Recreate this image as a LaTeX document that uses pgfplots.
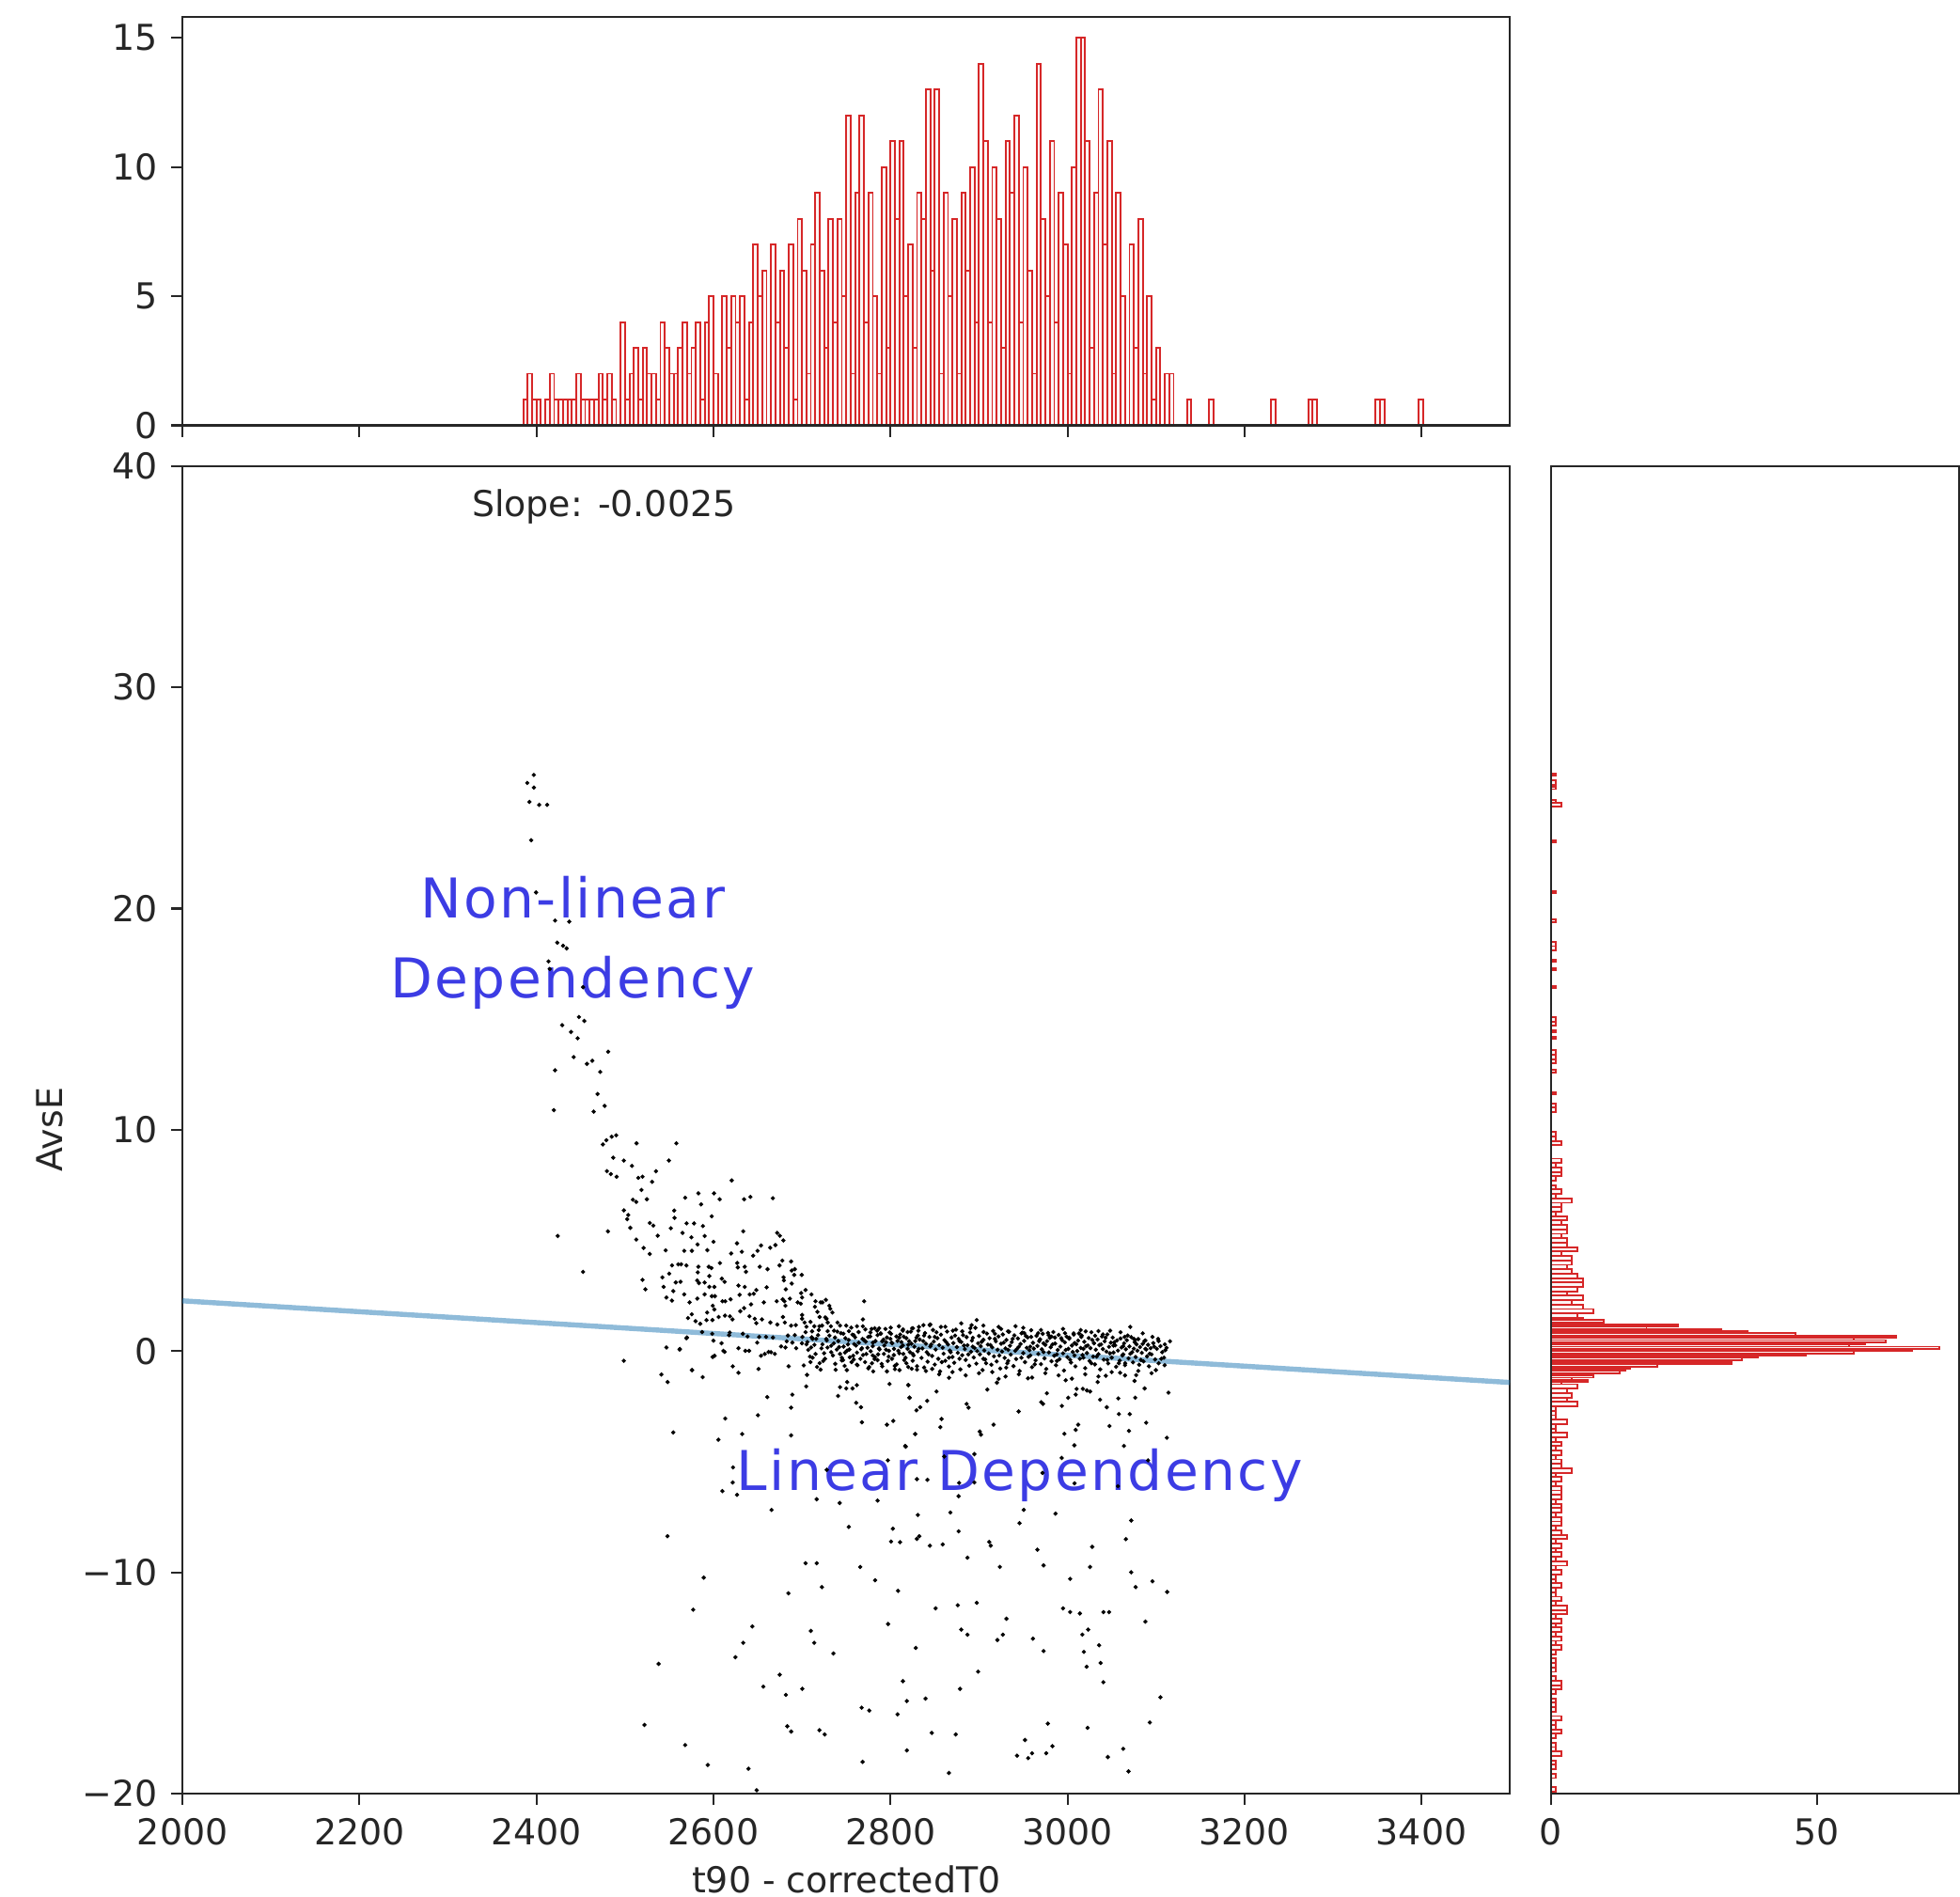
\documentclass[border=0pt]{standalone}
\usepackage{fontspec}
\setmainfont{DejaVu Sans}
\newfontfamily\annfont[LetterSpace=4]{DejaVu Sans}
\usepackage{pgfplots}
\pgfplotsset{compat=1.18}

\definecolor{spine}{HTML}{262626}
\definecolor{histred}{HTML}{D62728}
\definecolor{histfill}{HTML}{FCF4F4}
\definecolor{dotcol}{HTML}{1C1C2A}
\definecolor{reddot}{HTML}{E8604C}
\definecolor{fitblue}{HTML}{1F77B4}
\definecolor{anncol}{HTML}{3C3CE4}

\pgfplotsset{
  jp/.style={
    scale only axis,
    axis line style={spine, line width=0.5pt},
    major tick style={spine, line width=0.5pt},
    tick align=outside,
    major tick length=2.9pt,
    tick pos=left,
    tick label style={font=\fontsize{9.1}{11}\selectfont, text=spine},
    label style={font=\fontsize{9.1}{11}\selectfont, text=spine},
  },
  dots/.style={only marks, mark=*, mark size=0.3pt,
    mark options={draw=none, fill=dotcol}},
}

\begin{document}
\begin{tikzpicture}
\useasboundingbox (-46.6pt,-26.2pt) rectangle (453.8pt,457.9pt);

% ---------- main scatter ----------
\begin{axis}[jp,
  at={(0pt,0pt)}, anchor=south west,
  width=338.9pt, height=338.9pt,
  xmin=2000, xmax=3500, ymin=-20, ymax=40,
  xtick={2000,2200,2400,2600,2800,3000,3200,3400},
  xticklabels={2000,2200,2400,2600,2800,3000,3200,3400},
  ytick={-20,-10,0,10,20,30,40},
  yticklabels={−20,−10,0,10,20,30,40},
  xlabel={t90 - correctedT0}, ylabel={AvsE},
  xlabel style={at={(axis description cs:0.5,-0.0645)}, anchor=center},
  ylabel style={at={(axis description cs:-0.0999,0.5)}, anchor=center},
]
% upper arm
\addplot[dots] coordinates {
(2397,26.04) (2389.6,25.68) (2397,25.47) (2392,24.82) (2403,24.69) (2412,24.69)
(2394,23.09) (2399.5,20.73) (2421,19.46) (2437,19.41) (2423.5,18.46) (2430,18.32)
(2434,18.20) (2413.6,17.61) (2415,17.27) (2452.6,16.45) (2448,15.10) (2454,14.92)
(2429,14.73) (2439,14.42) (2446.5,14.14) (2481,13.53) (2442,13.29) (2463,13.12)
(2457,12.98) (2421,12.69) (2472,12.62) (2469,11.62) (2477,11.08) (2419.6,10.89)
(2464.6,10.82) (2475,9.34) (2479,9.53) (2485,9.69) (2490,9.75) (2513,9.39) (2558,9.39)
(2486.7,8.74) (2498.7,8.61) (2507.8,8.37) (2549.6,8.61) (2479.6,8.13) (2484,8.0)
(2490.5,7.88) (2535,8.13) (2519.8,7.88) (2515,7.83) (2530.6,7.65) (2620.6,7.71)
(2518.6,7.28) (2508.9,6.84) (2512.7,6.74) (2524.7,6.86) (2568,6.93) (2583,7.13)
(2600.6,7.13) (2607,6.86) (2634.6,6.86) (2641.7,6.97) (2667,6.91) (2586,6.63)
(2498.7,6.36) (2503.6,6.15) (2502.5,5.96) (2555.6,6.35) (2556,6.02) (2598,6.09)
(2569.6,5.77) (2578,5.77) (2588,5.65) (2528,5.79) (2532,5.67) (2506,5.57)
(2551.8,5.55) (2633.6,5.41) (2672,5.34) (2675,5.21) (2480.7,5.41) (2424,5.20)
(2512.7,5.04) (2537,5.21) (2565,5.34) (2575,5.14) (2590,5.20) (2679,5.00)
(2626.6,4.87) (2521,4.66) (2528,4.39) (2546,4.55) (2567,4.53) (2575.6,4.53)
(2582,4.82) (2593,4.56) (2600,4.94) (2620,4.41) (2632,4.49) (2644.8,4.31)
(2649.8,4.53) (2653.7,4.77) (2664,4.67) (2670,4.79) (2452.6,3.58) (2498.7,-0.44)
};
% left part of the band (2516-2835)
\addplot[dots] coordinates {
(2553.1,3.87) (2560.2,3.92) (2563.4,3.92) (2569.4,3.87) (2582.9,3.81) (2594.6,3.81)
(2597.7,3.75) (2607.3,3.98) (2626.8,3.98) (2627.5,3.78) (2635.3,3.81) (2636.7,3.58)
(2652.3,3.81) (2661.1,3.70) (2674.6,3.87) (2677.8,4.09) (2687.7,4.05) (2688.4,3.64)
(2691.9,3.70) (2691.2,3.44) (2679.2,3.33) (2679.5,3.19) (2519.8,3.22) (2523,2.79)
(2542.2,3.33) (2549.9,3.50) (2557.4,3.10) (2562.7,3.13) (2543.6,2.9) (2582.2,3.56)
(2581.5,3.19) (2583.6,3.07) (2590,3.10) (2595.3,3.39) (2595.3,2.90) (2600.9,2.90)
(2609.4,3.27) (2612.6,3.13) (2628.2,2.96) (2635.3,2.90) (2640.9,2.56) (2660.1,2.88)
(2681.7,2.79) (2688.4,3.05) (2699.7,3.44) (2704,2.76) (2699,2.62) (2700.1,2.42)
(2710.7,2.56) (2546.8,2.42) (2553.1,2.28) (2554.5,2.71) (2566.9,2.56) (2573,2.20)
(2581.8,2.37) (2590,2.56) (2598.1,2.48) (2601.6,2.48) (2599.2,2.05) (2600.9,1.88)
(2592.8,1.74) (2610.1,2.25) (2613.3,2.25) (2619.3,2.34) (2629.6,2.54) (2642.4,2.11)
(2645.5,2.59) (2656.9,2.20) (2671.4,2.25) (2678.1,2.34) (2680.2,2.25) (2681.3,2.05)
(2686.3,2.37) (2695.1,2.20) (2698.7,2.14) (2715.3,2.25) (2721,2.20) (2723.1,2.20)
(2727,2.31) (2730.9,2.05) (2732,1.91) (2734.4,1.74) (2714.6,2.00) (2717.4,1.77)
(2719.9,1.54) (2726.3,1.52) (2740.1,1.29) (2743,1.15) (2770.2,2.25) (2575.4,1.66)
(2571.2,1.49) (2579.7,1.35) (2585,1.23) (2592.1,1.40) (2598.8,1.40) (2605.9,1.54)
(2613,1.60) (2621.5,1.43) (2630.3,1.80) (2634.6,1.94) (2640.6,1.57) (2646.6,1.46)
(2648.4,1.26) (2654.8,1.43) (2664.3,1.29) (2672.1,1.20) (2678.5,1.54) (2680.6,1.29)
(2687.7,1.15) (2693,1.17) (2700.1,1.63) (2700.1,1.46) (2702.9,1.29) (2709.6,1.32)
(2713.9,1.12) (2719.6,1.12) (2722.7,1.15) (2729.1,1.29) (2732.7,1.12) (2750,1.15)
(2755.7,1.06) (2762.1,1.12) (2768.8,1.12) (2771.6,0.98) (2777.3,0.84) (2778.7,1.0)
(2782.2,1.03) (2787.2,1.03) (2794.3,1.0) (2800.3,1.06) (2800.6,0.78) (2809.5,1.12)
(2814.1,0.98) (2819.4,0.86) (2825.4,1.03) (2831.5,0.92) (2587.1,0.86) (2598.5,0.78)
(2617.6,0.72) (2633.2,0.78) (2638.5,0.66) (2651.6,0.64) (2659.4,0.64) (2667.2,0.61)
(2682.7,0.44) (2691.9,0.72) (2700.4,0.64) (2711.4,0.89) (2718.1,0.72) (2727.4,0.55)
(2737.3,0.61) (2746.8,0.78) (2752.8,0.50) (2758.5,0.72) (2764.2,0.38) (2768.4,0.55)
(2774.8,0.64) (2780.1,0.38) (2785.4,0.72) (2790.7,0.44) (2796,0.61) (2801.3,0.38)
(2806.7,0.66) (2812.3,0.41) (2818,0.58) (2823.7,0.33) (2829.3,0.61) (2546.8,0.16)
(2561.6,0.07) (2569.4,0.58) (2599.9,0.47) (2601.3,-0.21) (2609.1,0.35) (2611.2,0.01)
(2612.6,-0.04) (2618.3,0.84) (2628.2,0.13) (2636,0.01) (2640.2,0.01) (2649.4,0.38)
(2653.7,-0.21) (2658,-0.13) (2662.2,-0.04) (2669.3,-0.13) (2676.4,0.21) (2681.3,0.16)
(2689.1,0.38) (2693.4,0.13) (2706.1,0.41) (2710.3,0.16) (2715.3,-0.13) (2723.1,0.30)
(2728.8,0.16) (2733,0.24) (2739.4,0.07) (2743,-0.13) (2745.1,-0.30) (2748.6,-0.07)
(2753.5,0.07) (2757.8,-0.21) (2762.1,-0.07) (2767.7,0.13) (2772.7,-0.13) (2777.6,-0.01)
(2782.6,-0.27) (2787.5,0.07) (2792.5,-0.13) (2798.2,0.01) (2803.8,-0.18) (2808.8,0.01)
(2814.5,-0.13) (2819.4,0.10) (2825.1,-0.13) (2830.7,-0.01) (2684.9,-0.69) (2709.6,-0.50)
(2719.9,-0.55) (2721,-0.84) (2737.6,-0.58) (2746.5,-0.41) (2748.2,-0.67) (2750.7,-0.86)
(2758.5,-0.38) (2762.8,-0.64) (2771.3,-0.50) (2775.9,-0.72) (2780.5,-0.92) (2785.4,-0.41)
(2790.7,-0.69) (2796,-0.92) (2801.7,-0.35) (2804.9,-0.67) (2810.2,-0.86) (2815.5,-0.41)
(2820.1,-0.72) (2825.1,-0.44) (2830,-0.84) (2575.8,-0.86) (2587.8,-1.18) (2548.2,-1.40)
(2541.1,-1.06) (2621.8,-0.69) (2628.2,-0.98) (2650.9,-0.81) (2704.7,-1.60) (2743,-1.63)
(2750,-1.69) (2757.1,-1.69) (2761.3,-2.34) (2766.6,-2.54) (2798.9,-1.49) (2820.1,-1.54)
(2821.5,-2.11) (2660.8,-2.08) (2689.1,-1.97) (2740.8,-2.03) (2650.2,-2.90) (2687.7,-2.56)
(2767.7,-3.22) (2796,-3.33) (2803.1,-3.16) (2613.3,-3.05) (2554.5,-3.68) (2632.4,-3.75)
(2687.7,-3.81) (2605.5,-4.01) (2827.9,-3.75) (2816.6,-4.29) (2570,0.61) (2562,0.09)
(2575.6,-0.86) (2599,-0.27) (2705.7,-1.08) (2751,-1.40) (2762,-1.54)
(2705,0.3) (2712,-0.3) (2716,0.55) (2724,-0.45) (2729,0.9) (2735,-0.2) (2741,0.45)
(2747,0.2) (2753,0.9) (2756,-0.5) (2761,0.25) (2766,-0.35) (2770,0.5) (2774,0.15)
(2779,-0.55) (2783,0.45) (2786,-0.15) (2789,0.8) (2793,0.25) (2797,-0.45) (2800,0.55)
(2804,0.1) (2807,-0.6) (2811,0.75) (2814,0.25) (2817,-0.3) (2821,0.45) (2824,-0.8)
(2827,0.2) (2831,0.7) (2702,-0.65) (2704,0.85) (2707,0.05) (2709,-0.25) (2711,0.62)
(2714,0.28) (2717,-0.72) (2719,0.95) (2722,0.12) (2726,-0.35) (2728,0.48) (2731,0.7)
(2733,-0.05) (2736,0.35) (2738,-0.85) (2740,0.88) (2742,0.18) (2745,-0.42) (2749,0.58)
(2751,0.02) (2754,-0.28) (2757,0.74) (2759,0.31) (2762,-0.62) (2764,0.86) (2767,0.08)
(2769,-0.18) (2772,0.42) (2775,-0.78) (2777,0.66) (2780,0.22) (2782,-0.36) (2785,0.92)
(2787,0.12) (2790,-0.58) (2792,0.52) (2795,0.06) (2798,-0.25) (2799,0.84) (2802,0.35)
(2805,-0.82) (2808,0.46) (2810,-0.1) (2812,0.18) (2815,0.65) (2818,-0.55) (2820,0.28)
(2823,0.88) (2826,-0.2) (2828,0.45) (2830,-0.68) (2832,0.1)
};
% right part of the band (2835-3120)
\addplot[dots] coordinates {
(2897.4,1.40) (2891.7,1.17) (2857,1.09) (2844.3,1.17) (2837.2,1.17) (2832.2,1.09)
(2824.4,1.03) (2813.8,0.92) (2870.5,0.92) (2881.1,0.89) (2890.3,1.03) (2905.2,0.86)
(2922.2,1.09) (2932.8,0.89) (2941.3,1.12) (2951.2,0.81) (2959,0.64) (2966.8,0.81)
(2978.8,0.72) (2985.9,0.61) (2997.2,0.81) (3007.1,0.75) (3015.6,0.64) (3020.6,0.89)
(3031.2,0.69) (3048.2,0.92) (3064.5,0.64) (3070.9,1.09) (3076.5,0.50) (3096,0.64)
(3102.4,0.55) (3115.8,0.44) (3110.5,0.04) (3099.9,-0.86) (3109.8,-0.64) (3114.1,-1.88)
(3087.2,-1.69) (3076.5,-2.11) (3075.8,-1.35) (3077.6,-1.09) (3058.1,-2.85) (3047.5,-3.39)
(3088.9,-3.24) (3112.3,-3.92) (3069.5,-3.61) (3059.5,-0.98) (3065.2,-0.55) (3043.3,-1.12)
(3036.9,-2.2) (3025.6,-1.83) (3017.4,-1.71) (3010.3,-1.71) (3009.3,-1.97) (3034.1,-1.40)
(2998,-1.32) (3000.8,-2.11) (3012.1,-3.33) (3009.3,-3.56) (2993.7,-2.48) (2976.7,-1.91)
(2970.3,-2.31) (2972.4,-2.39) (2955.4,-1.23) (2944.8,-2.73) (2930.7,-0.75) (2922.2,-1.26)
(2909.4,-1.74) (2916.5,-3.33) (2900.9,-3.64) (2902.3,-3.78) (2886,-2.39) (2888.2,-2.56)
(2857.7,-3.07) (2856.3,-3.44) (2866.2,-1.21) (2847.1,-0.81) (2852,-1.83) (2841.4,-2.25)
(2833.6,-2.54) (2829.4,-2.68) (2821.6,-2.11) (2820.2,-1.54) (2828,-3.75) (2817.3,-4.32)
(2996.5,-3.74) (3007.8,-4.26) (3063.8,-4.29) (3022,-1.78) (3044.4,-2.54) (3057.4,-2.14)
(3070.4,-2.85) (2920.3,-1.43)
(2833,0.52) (2835,-0.31) (2836,0.12) (2838,-0.74) (2839,0.81) (2840,0.33) (2841,-0.05)
(2842,-0.48) (2844,0.64) (2845,0.21) (2847,-0.22) (2848,0.95) (2849,0.43) (2850,-0.61)
(2851,0.07) (2853,0.58) (2854,-0.35) (2855,0.27) (2856,-0.92) (2857,0.74) (2859,0.15)
(2860,-0.12) (2861,0.49) (2862,-0.44) (2864,0.88) (2865,0.30) (2866,-0.70) (2867,0.02)
(2869,0.61) (2870,-0.27) (2871,0.36) (2872,-0.53) (2874,0.97) (2875,0.18) (2876,-0.08)
(2877,0.55) (2879,-0.83) (2880,0.41) (2881,-0.19) (2882,0.72) (2884,0.09) (2885,-0.40)
(2886,0.63) (2887,0.26) (2889,-0.66) (2890,0.84) (2891,-0.03) (2892,0.47) (2894,-0.29)
(2895,0.14) (2896,1.05) (2897,-0.57) (2899,0.35) (2900,0.68) (2901,-0.15) (2902,0.22)
(2904,-0.86) (2905,0.51) (2906,0.03) (2907,-0.38) (2909,0.79) (2910,0.29) (2911,-0.11)
(2912,0.58) (2914,-0.62) (2915,0.17) (2916,0.91) (2917,-0.24) (2919,0.44) (2920,-0.47)
(2921,0.06) (2922,0.66) (2924,-0.79) (2925,0.33) (2926,-0.02) (2927,0.75) (2929,-0.31)
(2930,0.12) (2931,0.50) (2932,-0.55) (2934,0.87) (2935,0.24) (2936,-0.16) (2937,0.40)
(2939,-0.68) (2940,0.71) (2941,0.01) (2942,-0.36) (2944,0.57) (2945,0.19) (2946,-0.90)
(2947,0.32) (2949,0.83) (2950,-0.09) (2951,0.46) (2952,-0.50) (2954,0.15) (2955,0.62)
(2956,-0.26) (2957,0.04) (2959,0.94) (2960,-0.73) (2961,0.37) (2962,0.11) (2964,-0.42)
(2965,0.69) (2966,0.23) (2967,-0.13) (2969,0.53) (2970,-0.59) (2971,0.08) (2972,0.78)
(2974,-0.33) (2975,0.28) (2976,-0.81) (2977,0.45) (2979,-0.06) (2980,0.60) (2981,0.17)
(2982,-0.46) (2984,0.86) (2985,-0.21) (2986,0.34) (2987,-0.64) (2989,0.05) (2990,0.73)
(2991,-0.37) (2992,0.20) (2994,0.49) (2995,-0.10) (2996,-0.88) (2997,0.39) (2999,0.65)
(3000,-0.28) (3001,0.10) (3002,0.56) (3004,-0.52) (3005,0.25) (3006,-0.04) (3007,0.80)
(3009,-0.69) (3010,0.31) (3011,0.00) (3012,0.47) (3014,-0.35) (3015,0.14) (3016,0.70)
(3017,-0.18) (3019,0.42) (3020,-0.77) (3021,0.22) (3022,-0.09) (3024,0.59) (3025,-0.45)
(3026,0.13) (3027,0.85) (3029,-0.25) (3030,0.36) (3031,-0.60) (3032,0.06) (3034,0.52)
(3035,-0.14) (3036,0.27) (3037,-0.83) (3039,0.66) (3040,0.09) (3041,-0.39) (3042,0.44)
(3044,-0.02) (3045,0.75) (3046,-0.56) (3047,0.19) (3049,0.38) (3050,-0.30) (3051,0.61)
(3052,-0.07) (3054,0.26) (3055,-0.71) (3056,0.48) (3057,0.02) (3059,-0.43) (3060,0.57)
(3061,0.16) (3062,-0.20) (3064,0.35) (3065,-0.64) (3066,0.08) (3067,0.49) (3069,-0.33)
(3070,0.21) (3071,-0.12) (3072,0.63) (3074,-0.51) (3075,0.11) (3076,0.40) (3077,-0.27)
(3079,0.02) (3080,0.54) (3081,-0.62) (3082,0.18) (3084,-0.08) (3085,0.32) (3086,-0.47)
(3087,0.45) (3089,0.07) (3090,-0.24) (3091,0.28) (3092,-0.69) (3094,0.13) (3095,-0.15)
(3097,0.36) (3099,-0.38) (3101,0.10) (3103,-0.55) (3105,0.22) (3107,-0.05) (3109,-0.30)
(3112,0.15)
(2837,0.45) (2843,-0.15) (2846,0.3) (2852,0.85) (2858,-0.5) (2863,0.4) (2868,-0.05)
(2873,0.7) (2878,-0.35) (2883,0.25) (2888,-0.15) (2893,0.6) (2898,0.0) (2903,0.42)
(2908,-0.55) (2913,0.27) (2918,0.78) (2923,-0.2) (2928,0.38) (2933,-0.45) (2938,0.55)
(2943,0.1) (2948,-0.3) (2953,0.68) (2958,0.2) (2963,-0.6) (2968,0.45) (2973,-0.05)
(2978,0.82) (2983,0.3) (2988,-0.15) (2993,0.58) (2998,0.05) (3003,-0.4) (3008,0.36)
(3013,0.8) (3018,-0.3) (3023,0.25) (3028,0.5) (3033,-0.25) (3038,0.3) (3043,0.6)
(3048,-0.1) (3053,0.4) (3058,-0.55) (3063,0.22) (3068,0.7) (3073,-0.05) (3078,0.3)
(3083,-0.4) (3088,0.48) (3093,-0.12) (3098,0.2) (3103,0.45) (3106,-0.35) (3110,0.3)
(2840,-0.9) (2855,-1.05) (2870,-0.95) (2885,-1.1) (2900,-1.0) (2915,-0.95) (2930,-1.15)
(2945,-1.05) (2960,-1.2) (2975,-1.0) (2990,-1.1) (3005,-1.25) (3020,-1.05) (3035,-1.15)
(3050,-0.95) (3065,-1.1) (3080,-0.9) (3095,-1.0) (2845,1.2) (2862,1.1) (2880,1.25)
(2905,1.15) (2925,1.0) (2950,1.05) (2970,0.95) (2995,1.0) (3015,0.95) (3035,0.9)
(3060,0.85) (3085,0.8)
};
% lower scattered points
\addplot[dots] coordinates {
(2860.7,-4.77) (2993.5,-4.83) (3091,-4.94) (2622,-5.26) (2728,-5.37) (2797,-4.94)
(2829.8,-5.79) (2841.7,-5.82) (2894.8,-4.66) (2894.8,-5.94) (2971.8,-5.51) (3008,-5.98)
(3057,-6.11) (2621.7,-5.94) (2610,-6.33) (2626.6,-6.50) (2716.6,-6.70) (2742.6,-6.87)
(2785.4,-6.76) (2877,-6.56) (2877.5,-5.96) (2665.6,-7.18) (2830.9,-7.41) (2867.7,-7.30)
(2950.6,-7.18) (2986.5,-7.35) (2945.8,-7.78) (3072,-7.66) (2752.9,-7.95) (2802.7,-8.03)
(2548,-8.37) (2800.6,-8.61) (2810.8,-8.64) (2829.8,-8.49) (2832.5,-8.37) (2844.5,-8.80)
(2859,-8.74) (2877,-8.15) (2911.6,-8.63) (2913.3,-8.80) (2966,-8.98) (3028,-8.85)
(3066,-8.50) (2704,-9.59) (2716.6,-9.59) (2765.8,-9.76) (2887,-9.34) (2923.6,-9.76)
(2973,-9.69) (3025.5,-9.76) (3072,-10.0) (3003,-10.30) (2782.6,-10.36) (2589,-10.24)
(2722.5,-10.67) (2808.5,-10.84) (3077,-10.67) (3096,-10.41) (3112.7,-10.89) (2684.6,-10.95)
(2577,-11.69) (2851,-11.63) (2876,-11.49) (2897.5,-11.38) (2995,-11.63) (3003,-11.80)
(3014,-11.86) (3040.6,-11.80) (3047,-11.80) (2797.3,-12.34) (2643.9,-12.45) (2931,-12.10)
(3023.4,-12.59) (3088,-12.23) (2710,-12.65) (2880,-12.59) (2887,-12.82) (2920.8,-13.06)
(2927,-12.82) (3016.8,-12.82) (2633.6,-13.19) (2713.8,-13.19) (2961,-13.00) (3018.5,-13.60)
(3035.7,-13.30) (2973,-13.56) (2828.6,-13.42) (2735.5,-13.67) (2624.8,-13.84) (2538,-14.14)
(2899,-14.49) (3037.4,-14.10) (3021.6,-14.27) (3040.6,-14.97) (2674.8,-14.63) (2814,-14.92)
(2656.3,-15.17) (2700.3,-15.27) (2681.8,-15.54) (2878.6,-15.27) (3105,-15.65) (2818.5,-15.82)
(2839.6,-15.71) (2767.4,-16.12) (2776,-16.25) (2808,-16.42) (2522,-16.90) (2683.4,-16.96)
(2687.8,-17.20) (2719.7,-17.14) (2725.7,-17.33) (2846.6,-17.26) (2873.7,-17.33) (2977.8,-16.84)
(3022.7,-17.03) (3093,-16.79) (2568,-17.81) (2952,-17.58) (2983,-17.86) (2943,-18.29)
(2955.6,-18.40) (2960,-18.18) (2976,-18.18) (3063,-17.98) (3045.6,-18.35) (2818.5,-18.05)
(2593.5,-18.71) (2639.5,-18.88) (2768.5,-18.57) (3069,-19.00) (2866,-19.07) (2648.8,-19.85)
};
% red points
\addplot[only marks, mark=*, mark size=0.3pt, mark options={draw=none, fill=reddot}] coordinates {
(2618.6,1.57) (2648.4,2.76) (2727.7,1.46) (2736.2,0.92) (2744,0.81) (2768.8,1.43)
(2789,0.78) (2700,0.35) (2712,0.55) (2725,-0.1) (2752,0.3) (2760,0.62) (2780,-0.2)
(2795,0.4) (2810,0.6) (2822,-0.05) (2838,0.7) (2850,0.64) (2866,-0.3) (2878,0.45)
(2893,0.2) (2905,-0.35) (2918,0.55) (2933,0.05) (2948,0.8) (2958,-0.2) (2973,0.35)
(2988,-0.45) (3002,0.6) (3018,0.1) (3027,-0.55) (3040,0.75) (3052,0.25) (3063,-0.15)
(3075,0.55) (3088,0.1) (3030,0.35) (3045,-0.4) (3008,-0.2) (2982,0.65) (2665,-0.05)
(2684,0.7) (2705,1.1)
};
% fitted line
\addplot[fitblue, opacity=0.5, line width=1.3pt] coordinates {(2000,2.27) (3500,-1.42)};

\node[font=\fontsize{9.1}{11}\selectfont, text=spine] at (axis description cs:0.3173,0.9695) {Slope: -0.0025};
\node[font=\annfont\fontsize{14}{20.4}\selectfont, text=anncol, align=center] at (axis cs:2441,18.47) {Non-linear\\Dependency};
\node[font=\annfont\fontsize{14}{20.4}\selectfont, text=anncol] at (axis cs:2946,-5.6) {Linear Dependency};
\end{axis}

% ---------- top marginal histogram ----------
\begin{axis}[jp, axis on top,
  at={(0pt,349.3pt)}, anchor=south west,
  width=338.9pt, height=104.2pt,
  xmin=2000, xmax=3500, ymin=0, ymax=15.8,
  xtick={2000,2200,2400,2600,2800,3000,3200,3400}, xticklabels={},
  ytick={0,5,10,15}, yticklabels={0,5,10,15},
]
\addplot[ybar interval, draw=histred, fill=histfill, line width=0.45pt] coordinates {
(2385,1) (2390,2) (2395,1) (2400,1) (2405,0) (2410,1) (2415,2) (2420,1) (2425,1)
(2430,1) (2435,1) (2440,1) (2445,2) (2450,1) (2455,1) (2460,1) (2465,1) (2470,2)
(2475,1) (2480,2) (2485,1) (2490,0) (2495,4) (2500,1) (2505,2) (2510,3) (2515,1)
(2520,3) (2525,2) (2530,2) (2535,1) (2540,4) (2545,3) (2550,2) (2555,2) (2560,3)
(2565,4) (2570,2) (2575,3) (2580,4) (2585,1) (2590,4) (2595,5) (2600,2) (2605,0)
(2610,5) (2615,3) (2620,5) (2625,4) (2630,5) (2635,1) (2640,4) (2645,7) (2650,5)
(2655,6) (2660,0) (2665,7) (2670,4) (2675,6) (2680,3) (2685,7) (2690,1) (2695,8)
(2700,6) (2705,2) (2710,7) (2715,9) (2720,6) (2725,3) (2730,8) (2735,4) (2740,8)
(2745,5) (2750,12) (2755,2) (2760,9) (2765,12) (2770,4) (2775,9) (2780,5) (2785,2)
(2790,10) (2795,3) (2800,11) (2805,8) (2810,11) (2815,5) (2820,7) (2825,3) (2830,9)
(2835,8) (2840,13) (2845,6) (2850,13) (2855,2) (2860,9) (2865,5) (2870,8) (2875,2)
(2880,9) (2885,6) (2890,10) (2895,4) (2900,14) (2905,11) (2910,4) (2915,10) (2920,8)
(2925,3) (2930,11) (2935,9) (2940,12) (2945,4) (2950,10) (2955,6) (2960,2) (2965,14)
(2970,8) (2975,5) (2980,11) (2985,4) (2990,9) (2995,7) (3000,2) (3005,10) (3010,15)
(3015,15) (3020,11) (3025,3) (3030,9) (3035,13) (3040,7) (3045,11) (3050,2) (3055,9)
(3060,5) (3065,0) (3070,7) (3075,3) (3080,8) (3085,2) (3090,5) (3095,1) (3100,3)
(3105,0) (3110,2) (3115,2) (3120,0) (3135,1) (3140,0) (3160,1) (3165,0) (3230,1)
(3235,0) (3272,1) (3277,1) (3282,0) (3348,1) (3353,1) (3358,0) (3397,1) (3402,0)
};
\end{axis}

% ---------- right marginal histogram ----------
\begin{axis}[jp, axis on top,
  at={(349.3pt,0pt)}, anchor=south west,
  width=104.2pt, height=338.9pt,
  xmin=0, xmax=76.7, ymin=-20, ymax=40,
  xtick={0,50}, xticklabels={0,50}, ytick=\empty,
]
\addplot[xbar interval, draw=histred, fill=histfill, line width=0.45pt] coordinates {
(1,-19.9) (0,-19.7) (0,-19.5) (1,-19.3) (0,-19.1) (1,-18.9) (1,-18.7) (0,-18.5)
(2,-18.3) (1,-18.1) (1,-17.9) (0,-17.7) (1,-17.5) (2,-17.3) (1,-17.1) (1,-16.9)
(2,-16.7) (0,-16.5) (1,-16.3) (1,-16.1) (1,-15.9) (0,-15.7) (1,-15.5) (2,-15.3)
(2,-15.1) (1,-14.9) (0,-14.7) (1,-14.5) (1,-14.3) (1,-14.1) (0,-13.9) (1,-13.7)
(2,-13.5) (1,-13.3) (2,-13.1) (1,-12.9) (2,-12.7) (1,-12.5) (2,-12.3) (1,-12.1)
(3,-11.9) (3,-11.7) (1,-11.5) (2,-11.3) (1,-11.1) (1,-10.9) (2,-10.7) (1,-10.5)
(1,-10.3) (2,-10.1) (1,-9.9) (3,-9.7) (1,-9.5) (2,-9.3) (1,-9.1) (2,-8.9) (1,-8.7)
(3,-8.5) (2,-8.3) (1,-8.1) (2,-7.9) (2,-7.7) (1,-7.5) (2,-7.3) (2,-7.1) (1,-6.9)
(2,-6.7) (2,-6.5) (2,-6.3) (1,-6.1) (2,-5.9) (1,-5.7) (4,-5.5) (2,-5.3) (2,-5.1)
(1,-4.9) (2,-4.7) (1,-4.5) (2,-4.3) (1,-4.1) (3,-3.9) (1,-3.7) (1,-3.5) (3,-3.3)
(1,-3.1) (1,-2.9) (1,-2.7) (5,-2.5) (3,-2.3) (4,-2.1) (3,-1.9) (5,-1.7)
(2,-1.5) (7,-1.4) (4,-1.3) (8,-1.2) (7,-1.1) (13,-1.0) (14,-0.9) (15,-0.8) (20,-0.7)
(34,-0.6) (28,-0.5) (36,-0.4) (39,-0.3) (48,-0.2) (57,-0.1) (68,0.0) (73,0.1)
(56,0.2) (59,0.3) (63,0.4) (57,0.5) (65,0.6) (46,0.7) (37,0.8) (32,0.9) (18,1.0)
(24,1.1) (8,1.2) (10,1.3) (6,1.4)
(5,1.5) (8,1.7) (6,1.9) (4,2.1) (6,2.3) (3,2.5) (5,2.7) (6,2.9) (6,3.1) (5,3.3)
(4,3.5) (3,3.7) (4,3.9) (4,4.1) (2,4.3) (5,4.5) (3,4.7) (3,4.9) (2,5.1) (3,5.3)
(3,5.5) (2,5.7) (3,5.9) (1,6.1) (2,6.3) (2,6.5) (4,6.7) (1,6.9) (2,7.1) (1,7.3)
(0,7.5) (1,7.7) (2,7.9) (2,8.1) (1,8.3) (2,8.5) (0,8.7) (0,8.9) (0,9.1) (2,9.3)
(1,9.5) (1,9.7) (0,9.9) (1,10.8) (1,11.0) (0,11.2) (1,11.6) (0,11.7) (1,12.6)
(0,12.7) (1,13.0) (1,13.2) (1,13.4) (0,13.6) (1,14.1) (0,14.2) (1,14.4) (0,14.5)
(1,14.7) (1,14.9) (0,15.1) (1,16.4) (0,16.5) (1,17.2) (0,17.3) (1,17.6) (0,17.7)
(1,18.1) (1,18.3) (0,18.5) (1,19.4) (0,19.5) (1,20.7) (0,20.8) (1,23.0) (0,23.1)
(2,24.6) (1,24.8) (0,24.9) (1,25.4) (1,25.5) (1,25.6) (0,25.8) (1,26.0) (0,26.1)
};
\end{axis}
\end{tikzpicture}
\end{document}
